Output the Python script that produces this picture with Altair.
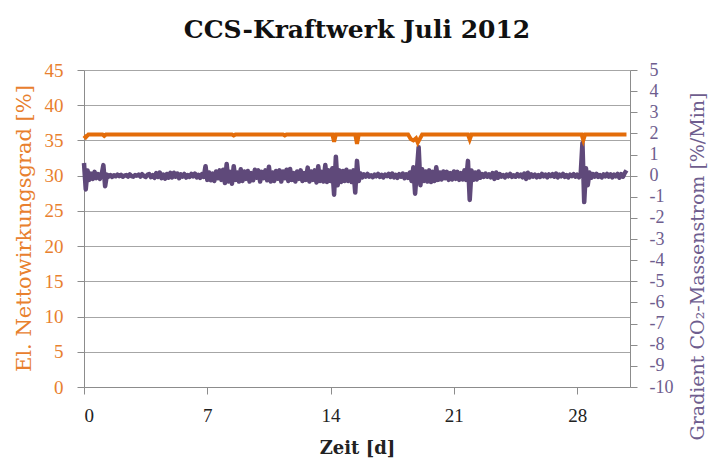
import altair as alt
import pandas as pd

# Orange series: net efficiency [%] (left axis), breakpoints in days
eff_day = [0.0, 0.1, 0.25, 0.4, 1.05, 1.15, 1.25, 8.4, 8.5, 8.6, 11.3, 11.4, 11.5,
           14.1, 14.2, 14.3, 15.4, 15.5, 15.6, 18.4, 18.55, 18.7, 18.85, 18.95, 19.05, 19.2,
           21.8, 21.9, 22.0, 28.25, 28.35, 28.45, 30.8]
eff_val = [35.7, 35.45, 35.85, 35.85, 35.85, 35.65, 35.85, 35.85, 35.7, 35.85, 35.85, 35.72, 35.85,
           35.85, 34.8, 35.85, 35.85, 34.5, 35.85, 35.85, 35.2, 35.0, 35.3, 34.7, 35.15, 35.85,
           35.85, 35.15, 35.85, 35.85, 35.05, 35.85, 35.85]

# Purple series: gradient CO2 mass flow [%/Min] (right axis), one value per 0.1 d
grad_val = [
    0.6, -0.65, 0.25, -0.2, 0.1, -0.15, 0.18, -0.12, 0.08, -0.15,     # day 0
    0.05, 0.5, -0.5, 0.05, -0.04, 0.03, -0.06, 0.02, -0.03, 0.05,     # day 1
    -0.02, 0.04, -0.05, 0.0, 0.03, -0.04, 0.06, -0.02, -0.05, 0.03,   # day 2
    0.0, 0.05, -0.04, 0.07, -0.02, -0.06, 0.04, 0.08, -0.07, 0.02,    # day 3
    -0.1, 0.12, -0.06, 0.15, -0.12, 0.05, -0.14, 0.08, -0.1, 0.13,    # day 4
    -0.08, 0.14, -0.05, 0.1, -0.12, 0.06, -0.04, 0.08, -0.09, 0.03,   # day 5
    -0.06, 0.08, -0.03, 0.1, -0.08, 0.04, -0.1, 0.07, -0.06, 0.45,    # day 6
    -0.2, 0.15, -0.22, 0.1, -0.25, 0.2, -0.12, 0.25, -0.2, 0.28,      # day 7
    -0.35, 0.55, -0.28, 0.18, -0.38, 0.45, -0.2, 0.15, -0.28, 0.3,    # day 8
    -0.25, 0.2, -0.15, 0.22, -0.28, 0.12, -0.22, 0.28, -0.1, 0.25,    # day 9
    -0.28, 0.18, -0.12, 0.25, -0.22, 0.42, -0.28, 0.15, -0.25, 0.22,  # day 10
    -0.15, 0.25, -0.28, 0.2, -0.12, 0.28, -0.25, 0.32, -0.2, 0.12,    # day 11
    -0.28, 0.2, -0.15, 0.25, -0.25, 0.12, -0.2, 0.38, -0.28, 0.2,     # day 12
    -0.2, 0.25, -0.32, 0.45, -0.25, 0.18, -0.28, 0.5, -0.3, 0.25,     # day 13
    -0.25, 0.35, -0.9, 0.9, -0.45, 0.25, -0.3, 0.22, -0.25, 0.28,     # day 14
    -0.25, 0.2, -0.3, 0.25, -0.8, 0.7, -0.25, 0.1, -0.08, 0.06,       # day 15
    -0.04, 0.08, -0.05, 0.02, -0.07, 0.05, -0.03, 0.08, -0.06, 0.04,  # day 16
    -0.08, 0.05, -0.02, 0.09, -0.06, 0.1, -0.08, 0.04, -0.1, 0.07,    # day 17
    -0.05, 0.1, -0.12, 0.06, -0.1, 0.15, -0.25, 0.4, -0.85, 0.25,     # day 18
    1.35, -0.45, 0.3, -0.25, 0.2, -0.28, 0.25, -0.3, 0.18, -0.25,     # day 19
    0.4, -0.2, 0.15, -0.18, 0.2, -0.12, 0.18, -0.2, 0.12, -0.18,      # day 20
    0.2, -0.15, 0.18, -0.2, 0.12, -0.18, 0.25, -0.2, 0.7, -1.15,      # day 21
    0.25, -0.2, 0.15, -0.18, 0.2, -0.1, 0.08, -0.06, 0.1, -0.05,      # day 22
    0.06, -0.08, 0.12, -0.15, 0.15, -0.1, 0.08, -0.05, 0.03, -0.08,   # day 23
    0.05, -0.03, 0.08, -0.06, 0.02, -0.05, 0.07, -0.03, 0.05, -0.08,  # day 24
    0.1, -0.15, 0.14, -0.08, 0.06, -0.04, 0.05, -0.08, 0.03, -0.06,   # day 25
    0.08, -0.03, 0.05, -0.08, 0.06, -0.02, 0.07, -0.05, 0.1, -0.08,   # day 26
    0.05, -0.03, 0.08, -0.06, 0.03, -0.08, 0.05, -0.02, 0.07, -0.05,  # day 27
    0.05, -0.08, 0.06, 1.55, -1.25, 0.35, -0.45, 0.15, -0.1, 0.08,    # day 28
    -0.05, 0.08, -0.06, 0.03, -0.08, 0.06, -0.03, 0.08, -0.05, 0.06,  # day 29
    -0.08, 0.05, -0.03, 0.08, -0.1, 0.07, -0.05, 0.12, 0.25,          # day 30
]
grad_day = [round(i * 0.1, 1) for i in range(len(grad_val))]

x_ticks = [0, 7, 14, 21, 28]
left_ticks = [0, 5, 10, 15, 20, 25, 30, 35, 40, 45]
right_ticks = [-10, -9, -8, -7, -6, -5, -4, -3, -2, -1, 0, 1, 2, 3, 4, 5]

ORANGE = "#E36C09"
ORANGE_TXT = "#E8802E"
PURPLE = "#5F497A"
PURPLE_TXT = "#6E5D8E"
FONT = "Liberation Serif"
TFONT = "DejaVu Serif"

df_eff = pd.DataFrame({"t": eff_day, "v": eff_val})
df_grad = pd.DataFrame({"t": grad_day, "g": grad_val})

xenc = alt.X("t:Q", scale=alt.Scale(domain=[0, 31], nice=False, zero=False),
             axis=alt.Axis(values=x_ticks, title="Zeit [d]", grid=False,
                           domainColor="#8c8c8c", tickColor="#8c8c8c", tickSize=7,
                           labelFont=FONT, labelFontSize=19, labelColor="#222222",
                           labelPadding=12, titleFont=TFONT, titleFontSize=18,
                           titleFontWeight="bold", titleColor="#222222", titlePadding=14))

purple = alt.Chart(df_grad).mark_line(color=PURPLE, strokeWidth=4.5, strokeJoin="round").encode(
    x=xenc,
    y=alt.Y("g:Q", scale=alt.Scale(domain=[-10, 5], nice=False, zero=False),
            axis=alt.Axis(orient="right", values=right_ticks, grid=False,
                          title="Gradient CO₂-Massenstrom [%/Min]", titleAngle=270,
                          titleX=67, titleY=196, titleAlign="center", titleBaseline="middle",
                          labelExpr="toString(datum.value)",
                          domainColor="#8c8c8c", tickColor="#8c8c8c", tickSize=7,
                          labelFont=FONT, labelFontSize=18, labelColor=PURPLE_TXT,
                          labelPadding=12, labelAlign="left",
                          titleFont=TFONT, titleFontSize=19, titleFontWeight="normal",
                          titleColor=PURPLE_TXT)),
)

orange = alt.Chart(df_eff).mark_line(color=ORANGE, strokeWidth=4).encode(
    x=xenc,
    y=alt.Y("v:Q", scale=alt.Scale(domain=[0, 45], nice=False),
            axis=alt.Axis(orient="left", values=left_ticks, grid=True, gridColor="#a6a6a6",
                          gridWidth=1.2,
                          title="El. Nettowirkungsgrad [%]",
                          titleX=-60, titleY=158, titleAlign="center", titleBaseline="middle",
                          titleAngle=270,
                          domainColor="#8c8c8c", tickColor="#8c8c8c", tickSize=7,
                          labelFont=FONT, labelFontSize=19, labelColor=ORANGE_TXT,
                          labelPadding=14,
                          titleFont=TFONT, titleFontSize=21, titleFontWeight="normal",
                          titleColor=ORANGE_TXT)),
)

chart = alt.layer(purple, orange).resolve_scale(y="independent").properties(
    width=546, height=317,
    title=alt.TitleParams("CCS-Kraftwerk  Juli  2012", font=TFONT, fontSize=25,
                          fontWeight="bold", color="#111111", anchor="middle",
                          frame="group", offset=18),
    padding={"left": 76, "top": 62, "right": 78, "bottom": 74},
    autosize=alt.AutoSizeParams(type="none"),
).configure_view(stroke=None).configure(background="white")

chart.save("out.html", embed_options={"renderer": "svg", "actions": False})
